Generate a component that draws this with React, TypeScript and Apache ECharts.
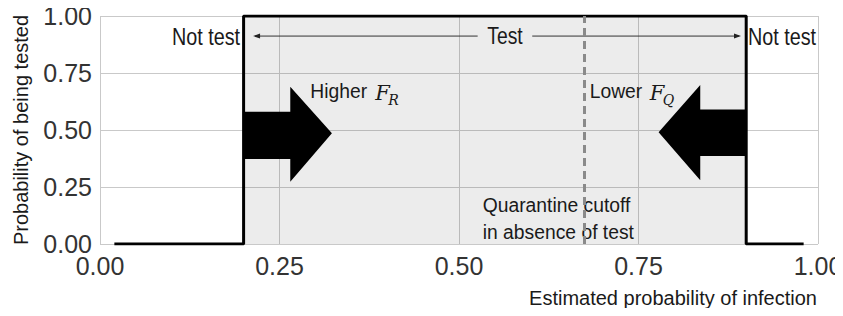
import React, { useEffect, useRef } from "react";
import * as echarts from "echarts";

const stepX = [0.02, 0.2, 0.2, 0.9, 0.9, 0.98];
const stepY = [0, 0, 1, 1, 0, 0];
const testedRange = [0.2, 0.9];
const cutoff = 0.674;
const axisTicks = [0, 0.25, 0.5, 0.75, 1];
const higherArrow: number[][] = [
  [0.2, 0.58], [0.265, 0.58], [0.265, 0.69], [0.323, 0.486],
  [0.265, 0.273], [0.265, 0.373], [0.2, 0.373],
];
const lowerArrow: number[][] = [
  [0.9, 0.59], [0.836, 0.59], [0.836, 0.697], [0.778, 0.49],
  [0.836, 0.28], [0.836, 0.386], [0.9, 0.386],
];
const testSpan = { left: 0.216, gapL: 0.526, gapR: 0.602, right: 0.89, y: 0.912 };

const FONT = "'Liberation Sans', Arial, sans-serif";
const MATH = "'DejaVu Serif', 'Liberation Serif', serif";

export default function App() {
  const ref = useRef<HTMLDivElement>(null);
  useEffect(() => {
    if (!ref.current) return;
    const chart = echarts.init(ref.current, undefined, { renderer: "svg" });
    const stepData = stepX.map((x, i) => [x, stepY[i]]);

    const renderAnn = (params: any, api: any) => {
      const c = (p: number[]) => api.coord(p);
      const children: any[] = [];
      children.push({ type: "polygon", shape: { points: higherArrow.map(c) }, style: { fill: "#000" } });
      children.push({ type: "polygon", shape: { points: lowerArrow.map(c) }, style: { fill: "#000" } });
      const a = c([testSpan.left, testSpan.y]);
      const b = c([testSpan.gapL, testSpan.y]);
      const d = c([testSpan.gapR, testSpan.y]);
      const e = c([testSpan.right, testSpan.y]);
      const ls = { stroke: "#333", lineWidth: 1 };
      children.push({ type: "line", shape: { x1: a[0], y1: a[1], x2: b[0], y2: b[1] }, style: ls });
      children.push({ type: "line", shape: { x1: d[0], y1: d[1], x2: e[0], y2: e[1] }, style: ls });
      children.push({ type: "polygon", shape: { points: [[a[0] - 2, a[1]], [a[0] + 5, a[1] - 2.5], [a[0] + 5, a[1] + 2.5]] }, style: { fill: "#222" } });
      children.push({ type: "polygon", shape: { points: [[e[0] + 2, e[1]], [e[0] - 5, e[1] - 2.5], [e[0] - 5, e[1] + 2.5]] }, style: { fill: "#222" } });
      const txt = (p: number[], text: string, align: string, size: number, extra: any = {}) => {
        const q = c(p);
        return {
          type: "text", x: q[0] + (extra.dx || 0), y: q[1] + (extra.dy || 0),
          scaleX: extra.sx || 1,
          style: {
            text, fill: extra.fill || "#1a1a1a", fontSize: size,
            fontFamily: extra.family || FONT, fontStyle: extra.italic ? "italic" : "normal",
            align, verticalAlign: "middle",
          },
        };
      };
      children.push(txt([0.564, testSpan.y], "Test", "center", 23, { sx: 0.84 }));
      children.push(txt([0.195, 0.904], "Not test", "right", 23, { sx: 0.86 }));
      children.push(txt([0.9025, 0.904], "Not test", "left", 23, { sx: 0.86 }));
      children.push(txt([0.293, 0.673], "Higher", "left", 21, { sx: 0.92 }));
      children.push(txt([0.293, 0.673], "F", "left", 21, { family: MATH, italic: true, dx: 65, dy: 2 }));
      children.push(txt([0.293, 0.673], "R", "left", 14, { family: MATH, italic: true, dx: 78, dy: 9 }));
      children.push(txt([0.682, 0.673], "Lower", "left", 21, { sx: 0.92 }));
      children.push(txt([0.682, 0.673], "F", "left", 21, { family: MATH, italic: true, dx: 60, dy: 2 }));
      children.push(txt([0.682, 0.673], "Q", "left", 14, { family: MATH, italic: true, dx: 73, dy: 9 }));
      children.push(txt([0.533, 0.171], "Quarantine cutoff", "left", 21, { sx: 0.92 }));
      children.push(txt([0.533, 0.053], "in absence of test", "left", 21, { sx: 0.92 }));
      return { type: "group", children };
    };

    chart.setOption({
      animation: false,
      grid: { left: 100, right: 25, top: 16, bottom: 72, containLabel: false, outerBoundsMode: "none" },
      xAxis: {
        type: "value", min: axisTicks[0], max: axisTicks[axisTicks.length - 1], interval: 0.25,
        axisLine: { show: false }, axisTick: { show: false },
        splitLine: { show: true, lineStyle: { color: "#c9c9c9", width: 1 } },
        axisLabel: { formatter: (v: number) => v.toFixed(2), fontSize: 25, fontFamily: FONT, color: "#333", margin: 9 },
        name: "Estimated probability of infection", nameLocation: "end", nameGap: -1,
        nameTextStyle: { fontSize: 20, fontFamily: FONT, color: "#1a1a1a", align: "right", verticalAlign: "top", padding: [44, 0, 0, 0] },
      },
      yAxis: {
        type: "value", min: axisTicks[0], max: axisTicks[axisTicks.length - 1], interval: 0.25,
        axisLine: { show: false }, axisTick: { show: false },
        splitLine: { show: true, lineStyle: { color: "#c9c9c9", width: 1 } },
        axisLabel: { formatter: (v: number) => v.toFixed(2), fontSize: 25, fontFamily: FONT, color: "#333", margin: 8 },
        name: "Probability of being tested", nameLocation: "middle", nameGap: 69,
        nameTextStyle: { fontSize: 20, fontFamily: FONT, color: "#1a1a1a" },
      },
      series: [
        {
          type: "line", data: stepData, symbol: "none", z: 3,
          lineStyle: { color: "#000", width: 3 },
          markArea: {
            silent: true,
            itemStyle: { color: "rgba(0,0,0,0.075)" },
            data: [[{ xAxis: testedRange[0], yAxis: 0 }, { xAxis: testedRange[1], yAxis: 1 }]],
          },
          markLine: {
            silent: true, symbol: "none", label: { show: false },
            lineStyle: { color: "#8a8a8a", width: 3, type: [8, 5] },
            data: [[{ coord: [cutoff, 0] }, { coord: [cutoff, 1] }]],
          },
        },
        {
          type: "custom", renderItem: renderAnn, data: [[0, 0]], z: 4, silent: true,
        },
      ],
    });
    return () => chart.dispose();
  }, []);
  return <div ref={ref} style={{ width: 843, height: 316, margin: -8 }} />;
}
